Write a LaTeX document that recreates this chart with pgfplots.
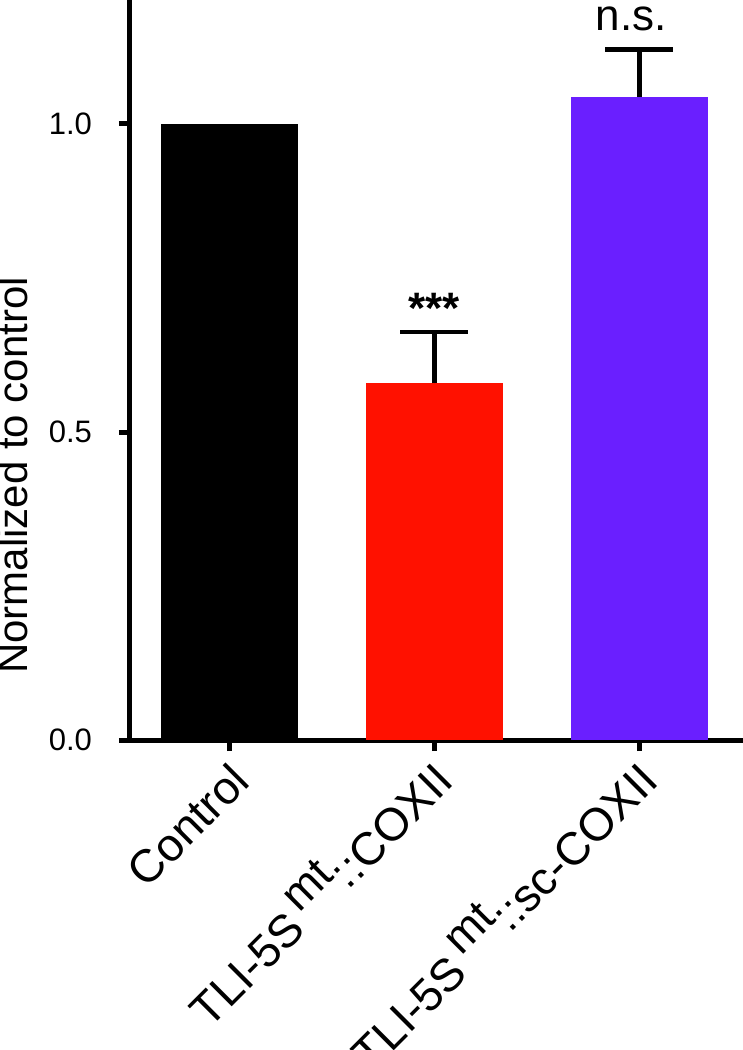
\documentclass[border=0pt]{standalone}
\usepackage{fontspec}
\setmainfont{Liberation Sans}
\usepackage{pgfplots}
\pgfplotsset{compat=1.18}
\definecolor{barred}{RGB}{255,17,0}
\definecolor{barpurple}{RGB}{106,31,255}
\begin{document}
\begin{tikzpicture}
\begin{axis}[
  scale only axis,
  width=308pt, height=369.6pt,
  xmin=-0.485, xmax=2.52, ymin=0, ymax=1.2,
  axis lines=left,
  axis line style={line width=2.5pt, -, line cap=rect},
  xtick={0,1,2},
  xticklabels={{Control},{TLI-5S\,\raisebox{0.4em}[0pt][0pt]{mt}::COXII},{TLI-5S\,\raisebox{0.4em}[0pt][0pt]{mt}::sc-COXII}},
  xticklabel style={xshift=-0.75pt, yshift=-4.75pt, rotate=45, anchor=north east, inner sep=0pt, font=\fontsize{23}{27}\selectfont},
  ytick={0,0.5,1},
  yticklabel style={/pgf/number format/.cd, fixed, fixed zerofill, precision=1, assume math mode=true, /tikz/.cd, xshift=-10pt, font=\fontsize{15.5}{18}\selectfont},
  tick align=outside,
  major tick length=5.5pt,
  tick style={line width=2.5pt, black},
  ylabel={Normalized to control},
  ylabel style={font=\fontsize{21}{25}\selectfont, at={([xshift=-51pt]rel axis cs:0,0.358)}, anchor=base, inner sep=0pt},
  error bars/error bar style={line width=2.2pt, black},
  error bars/error mark options={rotate=90, mark size=17pt, line width=2.2pt, black},
]
\addplot[ybar, bar width=0.668, fill=black, draw=none] coordinates {(0,1.0)};
\addplot[ybar, bar width=0.668, fill=barred, draw=none,
  error bars/.cd, y dir=plus, y explicit] coordinates {(1,0.579) +- (0,0.083)};
\addplot[ybar, bar width=0.668, fill=barpurple, draw=none,
  error bars/.cd, y dir=plus, y explicit] coordinates {(2,1.044) +- (0,0.077)};
\node[anchor=north, inner sep=0pt, font=\bfseries\fontsize{22}{26}\selectfont] at (axis cs:1,0.7256) {***};
\node[anchor=base, inner sep=0pt, font=\fontsize{22}{26}\selectfont] at ([xshift=-4pt]axis cs:2,1.151) {n.s.};
\coordinate (o) at (axis cs:-0.485,0);
\end{axis}
\pgfresetboundingbox
\path[use as bounding box] ([shift={(-65pt,-155pt)}]o) rectangle ([shift={(306.5pt,370pt)}]o);
\end{tikzpicture}
\end{document}
